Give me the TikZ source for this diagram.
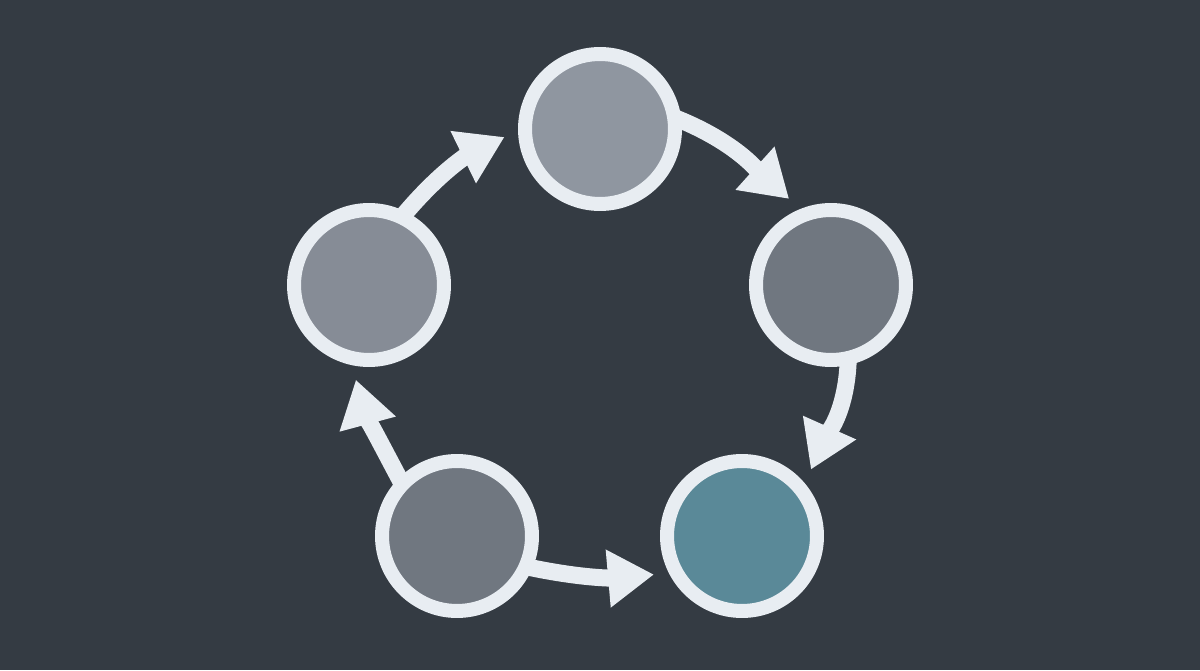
\documentclass[tikz,border=0pt]{standalone}
\usepackage{tikz}
\usetikzlibrary{shapes,arrows.meta,calc,positioning}

\definecolor{bgSlate}{RGB}{52,59,67}
\definecolor{ringWhite}{RGB}{232,237,242}
\definecolor{grayLight}{RGB}{143,150,160}
\definecolor{grayMid}{RGB}{134,140,150}
\definecolor{grayDark}{RGB}{112,119,128}
\definecolor{tealActive}{RGB}{90,137,152}

\begin{document}
\begin{tikzpicture}[
	x=0.02cm, y=0.02cm
	]
\tikzset{
	base/.style = { circle, draw=ringWhite, line width=0.28cm, minimum size=3cm, inner sep=0cm },
	stageLight/.style = { base, fill=grayLight },
	stageMid/.style = { base, fill=grayMid },
	stageDark/.style = { base, fill=grayDark },
	stageActive/.style = { base, fill=tealActive },
	arrow/.style = { draw=ringWhite, line width=0.34cm, -{Triangle[length=0.92cm, width=1.1cm]}, shorten >=0.3cm, shorten <=-0.1cm }
}

	% background
	\fill [bgSlate] (0,0) rectangle (1200,670);
	\useasboundingbox (0,0) rectangle (1200,670);

	% nodes
	\node (nodeTop) [stageLight] at (600,541) {};
	\node (nodeRight) [stageDark] at (831,385) {};
	\node (nodeBottomRight) [stageActive] at (742,134) {};
	\node (nodeBottomLeft) [stageDark] at (457,134) {};
	\node (nodeLeft) [stageMid] at (369,385) {};

	% paths
	\draw [arrow] (nodeTop.6) to[out=-22, in=138] (nodeRight.112);
	\draw [arrow] (nodeRight.-78) to[out=-92, in=66] (nodeBottomRight.40);
	\draw [arrow] (nodeBottomLeft.-23) to[out=-12, in=185] (nodeBottomRight.207);
	\draw [arrow] (nodeBottomLeft.135) to[out=118, in=-75] (nodeLeft.258);
	\draw [arrow] (nodeLeft.63) to[out=50, in=206] (nodeTop.181);
\end{tikzpicture}
\end{document}
